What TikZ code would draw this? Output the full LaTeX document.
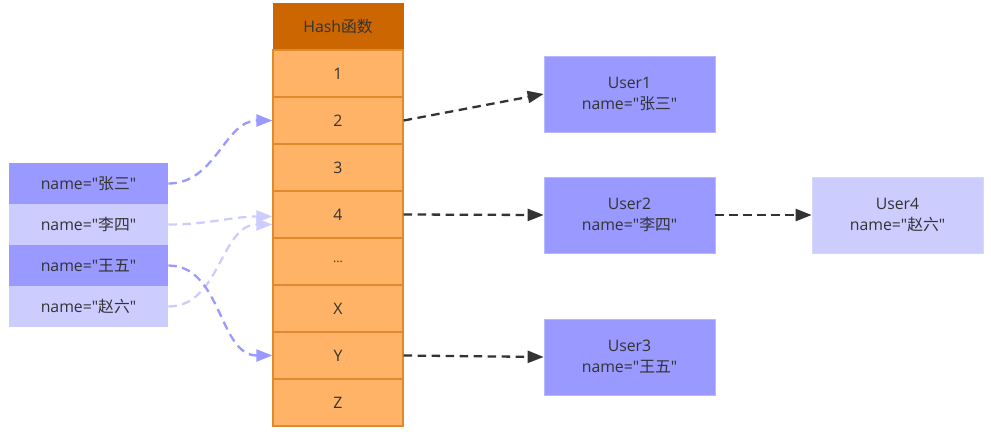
\documentclass[tikz,border=0pt]{standalone}
\usepackage{fontspec}
\setmainfont{Open Sans}[Ligatures=TeXOff]
\newfontfamily\cjk{Noto Sans CJK SC}[Ligatures=TeXOff]
\usetikzlibrary{arrows.meta}
\definecolor{hashhead}{HTML}{CC6600}
\definecolor{hashcell}{HTML}{FFB366}
\definecolor{hashline}{HTML}{E08A2E}
\definecolor{userdark}{HTML}{9999FF}
\definecolor{userlight}{HTML}{CCCCFF}
\definecolor{ink}{HTML}{333333}

\begin{document}
\begin{tikzpicture}[x=0.02cm, y=-0.02cm, font=\fontsize{9}{12}\selectfont, text=ink,
    head/.style={fill=hashhead, draw=hashhead, minimum width=2.6cm, minimum height=0.94cm, inner sep=0pt},
    cell/.style={fill=hashcell, draw=hashline, line width=0.8pt, minimum width=2.6cm, minimum height=0.94cm, inner sep=0pt},
    keydark/.style={fill=userdark, minimum width=3.18cm, minimum height=0.82cm, inner sep=0pt},
    keylight/.style={fill=userlight, minimum width=3.18cm, minimum height=0.82cm, inner sep=0pt},
    userbox/.style={fill=userdark, draw=userdark!70, minimum width=3.42cm, minimum height=1.52cm, align=center, inner sep=0pt},
    userpale/.style={userbox, fill=userlight, draw=userlight!80},
    link/.style={-{Triangle[length=3.2mm, width=2.4mm]}, line width=1.3pt, dash pattern=on 1.7mm off 1.1mm, ink},
    hashdark/.style={link, userdark},
    hashpale/.style={link, userlight}]

\useasboundingbox (0,0) rectangle (991,436);

% hash table
\node[head] (hash) at (338,26.5) {Hash{\cjk 函数}};
\node[cell] (r1) at (338,73.5)  {1};
\node[cell] (r2) at (338,120.5) {2};
\node[cell] (r3) at (338,167.5) {3};
\node[cell] (r4) at (338,214.5) {4};
\node[cell] (r5) at (338,261.5) {{\scriptsize...}};
\node[cell] (rx) at (338,308.5) {X};
\node[cell] (ry) at (338,355.5) {Y};
\node[cell] (rz) at (338,402.5) {Z};

% keys
\node[keydark]  (k1) at (88.5,183.5) {name="{\cjk 张三}"};
\node[keylight] (k2) at (88.5,224.5) {name="{\cjk 李四}"};
\node[keydark]  (k3) at (88.5,265.5) {name="{\cjk 王五}"};
\node[keylight] (k4) at (88.5,306.5) {name="{\cjk 赵六}"};

% users
\node[userbox]  (u1) at (629.5,94)  {User1\\name="{\cjk 张三}"};
\node[userbox]  (u2) at (629.5,215) {User2\\name="{\cjk 李四}"};
\node[userbox]  (u3) at (629.5,357) {User3\\name="{\cjk 王五}"};
\node[userpale] (u4) at (897.5,215) {User4\\name="{\cjk 赵六}"};

% hashing
\draw[hashpale] (k2.east) to[out=0, in=180] ([yshift=-0.04cm]r4.west);
\draw[hashpale] (k4.east) to[out=0, in=180] ([yshift=-0.2cm]r4.west);
\draw[hashdark] (k1.east) to[out=0, in=180] (r2.west);
\draw[hashdark] (k3.east) to[out=0, in=180] (ry.west);

% buckets
\draw[link] (r2.east) -- (u1.west);
\draw[link] (r4.east) -- (u2.west);
\draw[link] (ry.east) -- (u3.west);
\draw[link] (u2.east) -- (u4.west);
\end{tikzpicture}
\end{document}
